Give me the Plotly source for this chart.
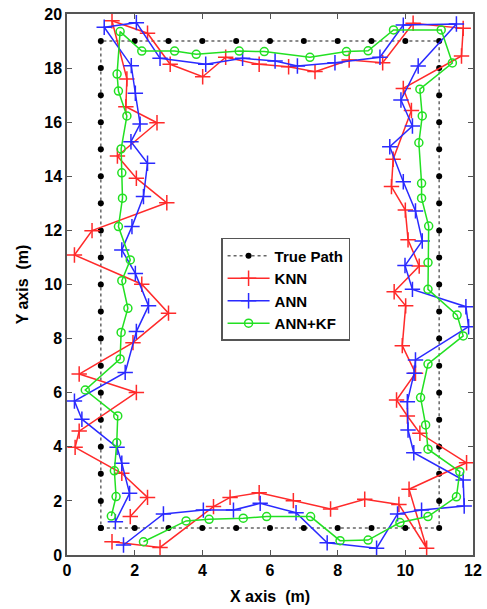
import plotly.graph_objects as go

# True path: dots every 1 m around the rectangle (1,1)-(11,19)
true_x = [1, 2, 3, 4, 5, 6, 7, 8, 9, 10, 11,
          11, 11, 11, 11, 11, 11, 11, 11, 11, 11, 11, 11, 11, 11, 11, 11, 11, 11,
          10, 9, 8, 7, 6, 5, 4, 3, 2, 1,
          1, 1, 1, 1, 1, 1, 1, 1, 1, 1, 1, 1, 1, 1, 1, 1, 1, 1]
true_y = [1, 1, 1, 1, 1, 1, 1, 1, 1, 1, 1,
          2, 3, 4, 5, 6, 7, 8, 9, 10, 11, 12, 13, 14, 15, 16, 17, 18, 19,
          19, 19, 19, 19, 19, 19, 19, 19, 19, 19,
          18, 17, 16, 15, 14, 13, 12, 11, 10, 9, 8, 7, 6, 5, 4, 3, 2, 1]

knn_x = [1.33, 2.75, 4.33, 4.82, 5.68, 6.69, 7.79, 8.80, 9.81, 10.63,
         10.11, 11.81, 10.43, 10.06, 9.74, 10.30, 9.91, 10.01, 9.67, 10.41,
         10.08, 10.00, 9.59, 9.64, 10.18, 9.94, 11.66, 11.71, 10.23, 9.33,
         8.34, 7.33, 6.55, 5.68, 4.69, 4.01, 3.05, 2.38, 1.33, 1.77,
         1.74, 2.66, 1.49, 2.05, 2.95, 0.74, 0.22, 2.21, 3.00, 1.95,
         0.36, 2.05, 0.36, 0.24, 1.62, 2.38, 1.87]
knn_y = [0.49, 0.28, 1.79, 2.13, 2.30, 2.01, 1.70, 2.06, 1.87, 0.25,
         2.43, 3.41, 4.50, 5.14, 5.73, 6.72, 7.74, 9.21, 9.73, 10.68,
         11.65, 12.75, 13.62, 14.63, 16.43, 17.25, 18.45, 19.47, 19.66, 18.20,
         18.30, 17.87, 18.05, 18.14, 18.40, 17.68, 18.14, 19.29, 19.75, 17.60,
         16.57, 15.98, 14.75, 13.93, 13.02, 11.99, 11.09, 10.01, 8.94, 7.85,
         6.69, 6.01, 4.58, 3.98, 3.02, 2.13, 1.42]

ann_x = [1.67, 2.85, 4.03, 4.92, 5.71, 6.77, 7.69, 9.15, 9.77, 10.48,
         11.74, 11.71, 10.25, 10.08, 10.06, 10.26, 10.30, 11.87, 11.79, 10.21,
         9.99, 10.50, 10.30, 9.94, 9.54, 10.21, 9.87, 10.38, 11.51, 9.94,
         9.25, 7.92, 6.81, 6.15, 5.19, 4.10, 2.75, 2.05, 1.10, 1.90,
         2.02, 2.16, 1.89, 2.38, 2.26, 1.92, 1.62, 2.02, 2.41, 2.05,
         1.72, 0.22, 0.44, 1.48, 1.62, 1.85, 1.43]
ann_y = [0.37, 1.52, 1.66, 1.66, 1.91, 1.56, 0.45, 0.25, 1.52, 1.66,
         1.81, 2.77, 3.78, 4.62, 5.67, 6.72, 7.21, 8.44, 9.18, 9.82,
         10.70, 11.61, 12.72, 13.80, 15.09, 15.86, 16.82, 18.08, 19.63, 19.59,
         18.40, 18.20, 18.08, 18.26, 18.36, 18.14, 18.36, 19.68, 19.51, 18.09,
         17.07, 15.93, 15.28, 14.48, 13.25, 12.14, 11.28, 10.41, 9.21, 8.26,
         6.75, 5.69, 5.02, 3.98, 3.39, 2.28, 1.23]

kf_x = [2.26, 3.52, 4.20, 5.21, 5.90, 7.20, 8.07, 8.90, 9.84, 10.67,
        11.51, 11.61, 10.67, 10.60, 10.45, 10.67, 11.71, 11.53, 10.67, 10.67,
        10.69, 10.48, 10.48, 10.40, 10.50, 10.43, 11.39, 11.06, 9.65, 8.90,
        8.26, 7.18, 5.83, 5.09, 3.82, 3.18, 2.21, 1.57, 1.48, 1.52,
        1.77, 1.60, 1.62, 1.64, 1.52, 1.87, 1.62, 1.80, 1.60, 1.57,
        0.54, 1.50, 1.47, 1.40, 1.45, 1.31]
kf_y = [0.49, 1.26, 1.32, 1.36, 1.42, 1.42, 0.53, 0.55, 1.20, 1.42,
        2.15, 3.08, 3.91, 4.81, 5.82, 7.06, 8.10, 8.87, 9.82, 10.81,
        12.16, 13.19, 13.74, 15.24, 16.23, 17.22, 18.19, 19.41, 19.41, 18.64,
        18.61, 18.40, 18.61, 18.63, 18.51, 18.63, 18.63, 19.35, 17.78, 17.15,
        16.23, 15.01, 14.13, 13.19, 12.14, 10.91, 10.14, 9.12, 8.23, 7.25,
        6.10, 5.14, 4.15, 3.11, 2.16, 1.44]

x_ticks = [0, 2, 4, 6, 8, 10, 12]
y_ticks = [0, 2, 4, 6, 8, 10, 12, 14, 16, 18, 20]

RED = '#ff2a2a'
BLUE = '#2a2aff'
GREEN = '#22e022'

fig = go.Figure()
fig.add_trace(go.Scatter(
    x=true_x, y=true_y, mode='lines+markers', name='True Path',
    line=dict(color='#666666', dash='dot', width=1.5),
    marker=dict(color='black', size=6, symbol='circle')))
fig.add_trace(go.Scatter(
    x=knn_x, y=knn_y, mode='lines+markers', name='KNN',
    line=dict(color=RED, width=1.5),
    marker=dict(symbol='cross-thin', size=11, color=RED,
                line=dict(color=RED, width=1.5))))
fig.add_trace(go.Scatter(
    x=ann_x, y=ann_y, mode='lines+markers', name='ANN',
    line=dict(color=BLUE, width=1.5),
    marker=dict(symbol='cross-thin', size=11, color=BLUE,
                line=dict(color=BLUE, width=1.5))))
fig.add_trace(go.Scatter(
    x=kf_x, y=kf_y, mode='lines+markers', name='ANN+KF',
    line=dict(color=GREEN, width=1.5),
    marker=dict(symbol='circle-open', size=8, color=GREEN,
                line=dict(color=GREEN, width=1.5))))

font_fam = 'Arial, Liberation Sans, Helvetica, sans-serif'
axis_common = dict(
    showgrid=False, zeroline=False, showline=True, linecolor='#555555',
    linewidth=1.5, mirror='ticks', ticks='inside', ticklen=5,
    tickcolor='#555555', tickwidth=1, automargin=False,
    tickfont=dict(family=font_fam, size=16, color='black', weight='bold'),
)

fig.update_layout(
    width=487, height=609,
    margin=dict(l=67, r=14, t=14, b=54),
    paper_bgcolor='white', plot_bgcolor='white',
    showlegend=True,
    legend=dict(
        x=0.3795, y=0.586, xanchor='left', yanchor='top',
        bgcolor='white', bordercolor='#555555', borderwidth=1.5,
        font=dict(family=font_fam, size=15, color='black', weight='bold'),
        tracegroupgap=0, itemwidth=42,
    ),
    xaxis=dict(range=[0, 12], tickvals=x_ticks,
               title=dict(text='X axis  (m)', standoff=13,
                          font=dict(family=font_fam, size=16, color='black', weight='bold')),
               **axis_common),
    yaxis=dict(range=[0, 20], tickvals=y_ticks,
               title=dict(text='Y axis  (m)', standoff=12,
                          font=dict(family=font_fam, size=16, color='black', weight='bold')),
               **axis_common),
)

fig.write_html('out.html',
               config={'displayModeBar': False},
               post_script="document.body.style.margin='0';document.body.style.overflow='hidden';")
